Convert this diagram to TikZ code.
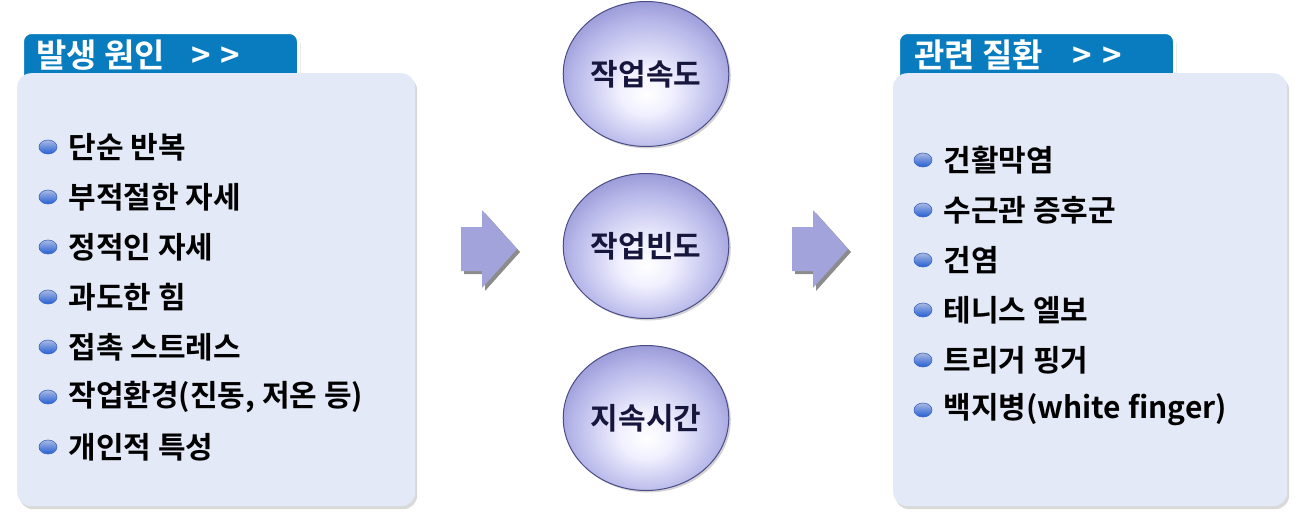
\documentclass[tikz,border=0pt]{standalone}
\usepackage{fontspec}
\setmainfont{Noto Sans CJK KR}[BoldFont={Noto Sans CJK KR Bold}]
\usepackage{tikz}
\usetikzlibrary{shapes.geometric,shadows,positioning}
\definecolor{tabblue}{RGB}{8,124,190}
\definecolor{panelblue}{RGB}{227,233,246}
\definecolor{dottop}{RGB}{170,185,225}
\definecolor{dotbottom}{RGB}{35,95,215}
\definecolor{arrowfill}{RGB}{163,163,219}
\definecolor{ballouter}{RGB}{128,128,200}
\definecolor{ballmid}{RGB}{184,184,234}
\definecolor{ballinner}{RGB}{240,240,255}
\definecolor{balledge}{RGB}{75,75,135}
\definecolor{balltext}{RGB}{22,22,60}
\pgfdeclareradialshading{glass}{\pgfpoint{0bp}{-7bp}}{color(0bp)=(white); color(8bp)=(ballinner);
    color(22bp)=(ballmid); color(34bp)=(ballouter); color(50bp)=(ballouter)}
\tikzset{
    font=\fontsize{30}{34}\selectfont\bfseries,
    tab/.style ={rectangle, rounded corners=9pt, fill=tabblue, draw=white, line width=3pt,
                 minimum width=276pt, minimum height=62pt, anchor=north west,
                 drop shadow={opacity=0.25, shadow xshift=2pt, shadow yshift=-2pt}},
    title/.style ={text=white, anchor=west, inner sep=0pt, font=\fontsize{33}{36}\selectfont\bfseries},
    panel/.style ={rectangle, rounded corners=14pt, fill=panelblue, anchor=north west,
                   minimum height=433pt,
                   drop shadow={opacity=0.3, shadow xshift=2pt, shadow yshift=-3pt}},
    dot/.style = {ellipse, top color=dottop, middle color=white, bottom color=dotbottom,
                  draw=dotbottom!70!gray, line width=0.6pt, minimum width=18pt, minimum height=14pt, inner sep=0pt},
    item/.style = {anchor=west, inner sep=0pt, text=black},
    factor/.style ={ellipse, minimum width=158pt, minimum height=145pt, shading=glass,
                    draw=balledge, line width=1pt, text=balltext,
                    drop shadow={opacity=0.35, shadow xshift=2pt, shadow yshift=-2pt}},
    flow/.style ={fill=arrowfill, drop shadow={fill=gray, opacity=0.9, shadow xshift=3pt, shadow yshift=-3pt}}
}

\begin{document}
\begin{tikzpicture}[x=1pt,y=-1pt]
    \useasboundingbox (0,0) rectangle (1301,528);

    % causes
    \node[tab] (causetab) at (21,31) {};
    \node[title] (causetitle) at (36,55) {발생 원인\hspace{0.8em}>\hspace{0.3em}>};
    \node[panel, minimum width=398pt] (causes) at (17,73) {};
    \foreach \txt [count=\i] in {단순 반복, 부적절한 자세, 정적인 자세, 과도한 힘, 접촉 스트레스, {작업환경(진동, 저온 등)}, 개인적 특성}{
        \node[dot] (causedot\i) at (48,{97+50*\i}) {};
        \node[item, right=11pt of causedot\i] (cause\i) {\txt};
    }

    % factors
    \node[factor] (speed) at (646,74) {작업속도};
    \node[factor] (freq) at (646,246) {작업빈도};
    \node[factor] (dur) at (646,418) {지속시간};

    \coordinate (arrowa) at (461,249);
    \coordinate (arrowb) at (792,249);
    \foreach \a in {arrowa,arrowb}
        \path[flow] (\a) ++(0,-22) -- ++(21,0) -- ++(0,-17) -- ++(35,39) -- ++(-35,39) -- ++(0,-17) -- ++(-21,0) -- cycle;

    % diseases
    \node[tab] (diseasetab) at (897,31) {};
    \node[title] (diseasetitle) at (914,55) {관련 질환\hspace{0.9em}>\hspace{0.3em}>};
    \node[panel, minimum width=394pt] (diseases) at (893,73) {};
    \foreach \txt [count=\i] in {건활막염, 수근관 증후군, 건염, 테니스 엘보, 트리거 핑거, 백지병(white finger)}{
        \node[dot] (diseasedot\i) at (923,{110+50*\i}) {};
        \node[item, right=11pt of diseasedot\i] (disease\i) {\txt};
    }
\end{tikzpicture}
\end{document}
